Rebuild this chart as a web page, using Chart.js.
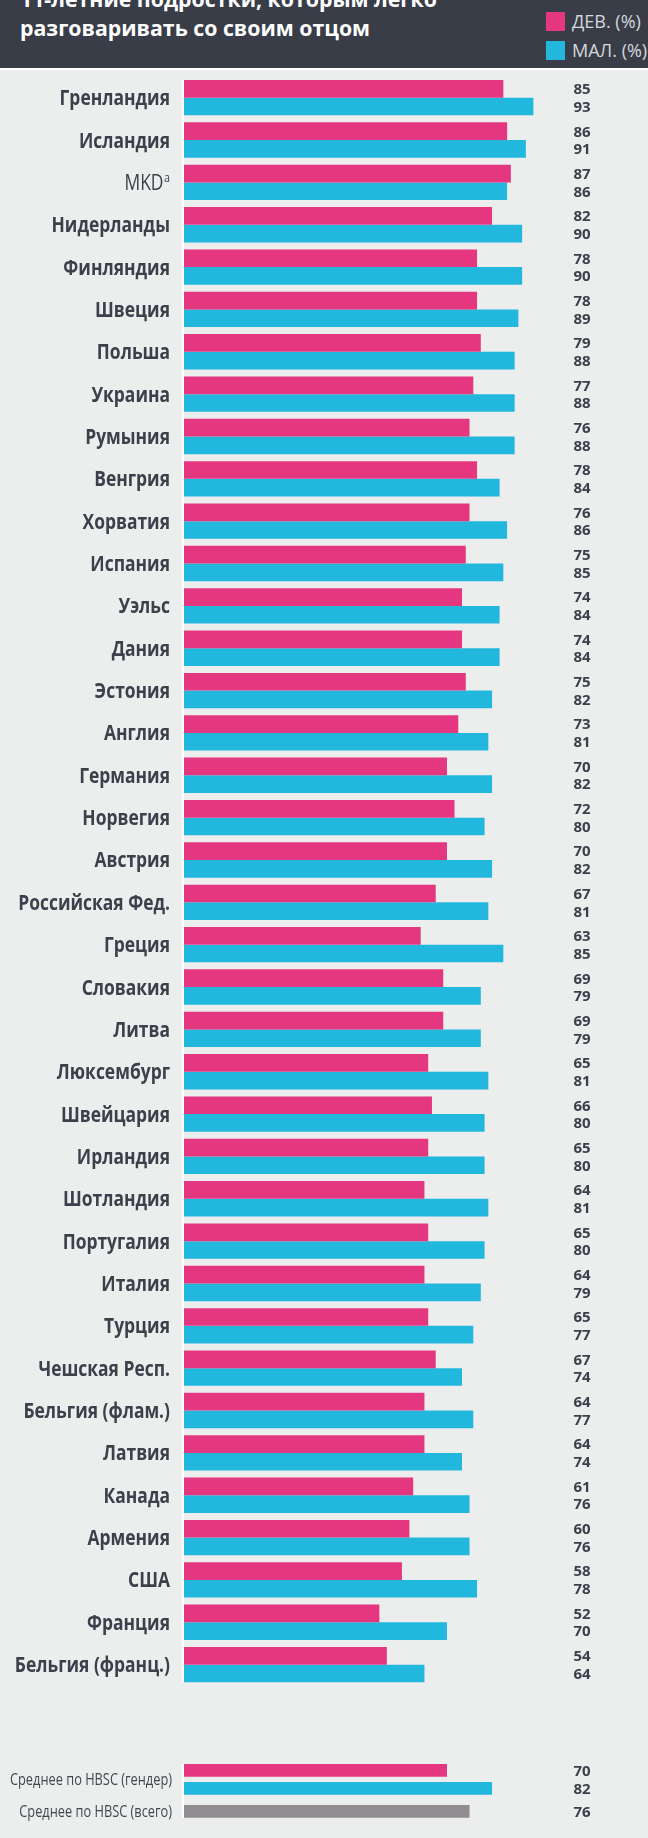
<!DOCTYPE html>
<html>
<head>
<meta charset="utf-8">
<script src="https://cdn.jsdelivr.net/npm/chart.js@4.4.1/dist/chart.umd.min.js"></script>
<style>
  body { margin: 0; width: 648px; height: 1838px; overflow: hidden; position: relative; background: #eceeed; font-family: "Open Sans", sans-serif; }
  #head { position: absolute; left: 0; top: 0; width: 648px; height: 68px; background: #383d48; border-bottom: 2px solid #fff; overflow: hidden; z-index: 2; }
  #title { position: absolute; left: 20px; top: -16px; color: #fff; font-weight: bold; font-size: 21.3px; line-height: 29px; white-space: nowrap; }
  .key { position: absolute; left: 546px; height: 19px; color: #d5d8dc; font-size: 18px; line-height: 19px; white-space: nowrap; }
  .key i { position: absolute; left: 0; top: 0; width: 19px; height: 19px; }
  .key span { position: absolute; left: 26px; top: 0; }
  canvas { position: absolute; left: 0; }
</style>
</head>
<body>
<div id="head">
  <div id="title">11-летние подростки, которым легко<br>разговаривать со своим отцом</div>
  <div class="key" style="top:12px"><i style="background:#e5377f"></i><span>ДЕВ. (%)</span></div>
  <div class="key" style="top:41px"><i style="background:#22b8dd"></i><span>МАЛ. (%)</span></div>
</div>
<canvas id="main" width="648" height="1700" style="top:0"></canvas>
<canvas id="avg" width="648" height="150" style="top:1700px"></canvas>
<script>
const countries = ['Гренландия', 'Исландия', 'MKD', 'Нидерланды', 'Финляндия', 'Швеция', 'Польша', 'Украина',
  'Румыния', 'Венгрия', 'Хорватия', 'Испания', 'Уэльс', 'Дания', 'Эстония', 'Англия', 'Германия', 'Норвегия',
  'Австрия', 'Российская Фед.', 'Греция', 'Словакия', 'Литва', 'Люксембург', 'Швейцария', 'Ирландия',
  'Шотландия', 'Португалия', 'Италия', 'Турция', 'Чешская Респ.', 'Бельгия (флам.)', 'Латвия', 'Канада',
  'Армения', 'США', 'Франция', 'Бельгия (франц.)']
const girls = [85, 86, 87, 82, 78, 78, 79, 77, 76, 78, 76, 75, 74, 74, 75, 73, 70, 72, 70, 67,
  63, 69, 69, 65, 66, 65, 64, 65, 64, 65, 67, 64, 64, 61, 60, 58, 52, 54]
const boys = [93, 91, 86, 90, 90, 89, 88, 88, 88, 84, 86, 85, 84, 84, 82, 81, 82, 80, 82, 81,
  85, 79, 79, 81, 80, 80, 81, 80, 79, 77, 74, 77, 74, 76, 76, 78, 70, 64]
const notes = { 'MKD': 'a' }

const avgLabels = ['Среднее по HBSC (гендер)', 'Среднее по HBSC (всего)']
const avgGirls = [70, null]
const avgBoys = [82, null]
const avgAll = [null, 76]

const PINK = '#e5377f', BLUE = '#22b8dd', GREY = '#918d92', INK = '#3b404b'

// labels, values and white axis line, placed from the chart's own elements
const rowText = {
  id: 'rowText',
  afterDatasetsDraw(chart, args, o) {
    const ctx = chart.ctx
    const metas = chart.getSortedVisibleDatasetMetas()
    const sets = chart.data.datasets
    const x0 = chart.scales.x.getPixelForValue(0)
    let top = Infinity, bottom = -Infinity
    metas.forEach(m => m.data.forEach((el, i) => {
      if (sets[m.index].data[i] == null) return
      top = Math.min(top, el.y - el.height / 2)
      bottom = Math.max(bottom, el.y + el.height / 2)
    }))
    ctx.save()
    ctx.fillStyle = '#fff'
    ctx.fillRect(x0 - 2, top, 2, bottom - top)

    ctx.fillStyle = INK
    ctx.textBaseline = 'alphabetic'
    ctx.textAlign = 'center'
    ctx.font = o.valueFont
    metas.forEach(m => m.data.forEach((el, i) => {
      const v = sets[m.index].data[i]
      if (v == null) return
      ctx.fillText(v, o.valueX, el.y + o.valueCap / 2)
    }))

    ctx.textAlign = 'right'
    chart.data.labels.forEach((lab, i) => {
      const ys = []
      metas.forEach(m => { if (sets[m.index].data[i] != null) ys.push(m.data[i].y) })
      const y = ys.reduce((a, b) => a + b, 0) / ys.length + o.cap / 2
      let x = o.right
      ctx.fillStyle = o.color
      if (notes[lab]) {
        ctx.font = o.noteFont
        const w = ctx.measureText(notes[lab]).width * o.squeeze
        squeeze(ctx, notes[lab], x, y - o.cap * 0.5, o.squeeze)
        x -= w + 0.5
        ctx.font = o.plainFont
      } else {
        ctx.font = o.font
      }
      squeeze(ctx, lab, x, y, o.squeeze)
    })
    ctx.restore()
  }
}

function squeeze(ctx, text, x, y, sx) {
  ctx.save()
  ctx.translate(x, y)
  ctx.scale(sx, 1)
  ctx.fillText(text, 0, 0)
  ctx.restore()
}

const baseOptions = {
  indexAxis: 'y',
  responsive: false,
  animation: false,
  devicePixelRatio: 1,
  scales: {
    x: { display: false, min: 0, max: 100, stacked: false },
    y: { display: false }
  }
}

new Chart(document.getElementById('main'), {
  type: 'bar',
  data: {
    labels: countries,
    datasets: [
      { label: 'ДЕВ. (%)', data: girls, backgroundColor: PINK },
      { label: 'МАЛ. (%)', data: boys, backgroundColor: BLUE }
    ]
  },
  options: {
    ...baseOptions,
    layout: { padding: { left: 184, right: 88.3, top: 76.5, bottom: 14.2 } },
    datasets: { bar: { categoryPercentage: 0.834, barPercentage: 1, borderWidth: 0 } },
    plugins: {
      legend: { display: false },
      tooltip: { enabled: false },
      rowText: {
        font: 'bold 21px "Open Sans"', plainFont: '21px "Open Sans"', noteFont: '13px "Open Sans"',
        squeeze: 0.83, cap: 15, right: 170, color: INK,
        valueFont: 'bold 15px "Open Sans"', valueCap: 10.7, valueX: 582
      }
    }
  },
  plugins: [rowText]
})

new Chart(document.getElementById('avg'), {
  type: 'bar',
  data: {
    labels: avgLabels,
    datasets: [
      { label: 'ДЕВ. (%)', data: avgGirls, backgroundColor: PINK, stack: 'a' },
      { label: 'МАЛ. (%)', data: avgBoys, backgroundColor: BLUE, stack: 'b' },
      { label: 'Всего (%)', data: avgAll, backgroundColor: GREY, stack: 'a' }
    ]
  },
  options: {
    ...baseOptions,
    layout: { padding: { left: 184, right: 88.3, top: 58.8, bottom: 9.2 } },
    datasets: { bar: { categoryPercentage: 0.878, barPercentage: 0.705, borderWidth: 0 } },
    plugins: {
      legend: { display: false },
      tooltip: { enabled: false },
      rowText: {
        font: '16px "Open Sans"', squeeze: 0.8, cap: 11.4, right: 172, color: '#42464f',
        valueFont: 'bold 15px "Open Sans"', valueCap: 10.7, valueX: 582
      }
    }
  },
  plugins: [rowText]
})
</script>
</body>
</html>
